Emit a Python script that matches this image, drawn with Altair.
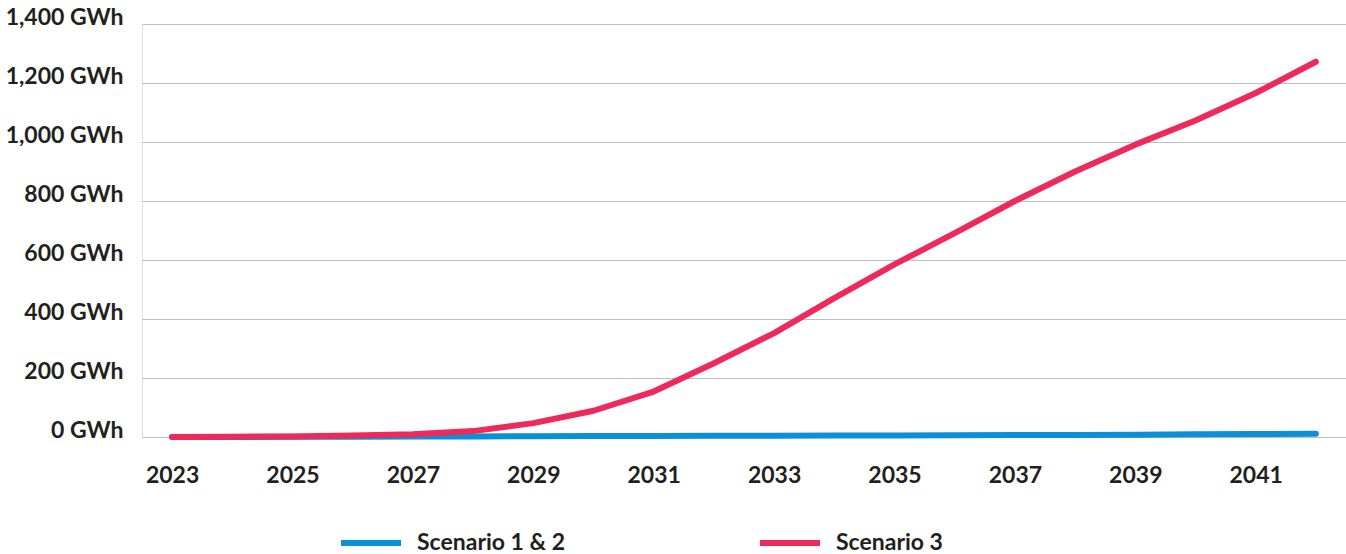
import altair as alt
import pandas as pd

years = list(range(2023, 2043))
scenario_12 = [0, 0.3, 0.6, 1, 1.5, 2, 2.5, 3, 3.5, 4, 4.5, 5, 5.5, 6, 6.5, 7, 8, 9, 10, 11]
scenario_3 = [0, 1, 2, 5, 9, 20, 47, 89, 154, 250, 352, 471, 585, 691, 800, 900, 991, 1073, 1166, 1272]
series_names = ["Scenario 1 & 2", "Scenario 3"]
series_colors = ["#0C8FD9", "#EE2A5B"]
y_ticks = [0, 200, 400, 600, 800, 1000, 1200, 1400]
x_label_years = [2023, 2025, 2027, 2029, 2031, 2033, 2035, 2037, 2039, 2041]

rows = []
for name, vals in zip(series_names, [scenario_12, scenario_3]):
    for y, v in zip(years, vals):
        rows.append({"year": y, "value": v, "series": name})
df = pd.DataFrame(rows)

FONT = "Lato"
FS = 23

chart = alt.Chart(df).mark_line(strokeWidth=6, strokeCap="round", strokeJoin="round").encode(
    x=alt.X("year:O",
            scale=alt.Scale(type="point", padding=0.5),
            axis=alt.Axis(values=x_label_years, title=None, labelAngle=0, domain=False, ticks=False,
                          grid=False, labelFont=FONT, labelFontSize=FS, labelFontWeight="bold",
                          labelColor="#231F20", labelPadding=27)),
    y=alt.Y("value:Q",
            scale=alt.Scale(domain=[0, 1400], nice=False),
            axis=alt.Axis(values=y_ticks, title=None, domain=False, ticks=False,
                          labelExpr="format(datum.value, ',') + ' GWh'",
                          labelFont=FONT, labelFontSize=FS, labelFontWeight="bold",
                          labelColor="#231F20", labelPadding=19, labelBaseline="alphabetic",
                          gridColor="#BDBDBD", gridWidth=1.2)),
    color=alt.Color("series:N",
                    scale=alt.Scale(domain=series_names, range=series_colors),
                    legend=alt.Legend(title=None, orient="none", direction="horizontal",
                                      legendX=196, legendY=486,
                                      symbolType="stroke", symbolSize=3600, symbolStrokeWidth=6,
                                      labelFont=FONT, labelFontSize=FS, labelFontWeight="bold",
                                      labelColor="#231F20", labelOffset=13, columnPadding=182)),
).properties(
    width=1204, height=413,
    autosize=alt.AutoSizeParams(type="none"),
    padding={"left": 142, "top": 24, "right": 0, "bottom": 117},
).configure_view(stroke=None).configure(background="white")

chart.save("out.html", embed_options={"renderer": "svg", "actions": False})
